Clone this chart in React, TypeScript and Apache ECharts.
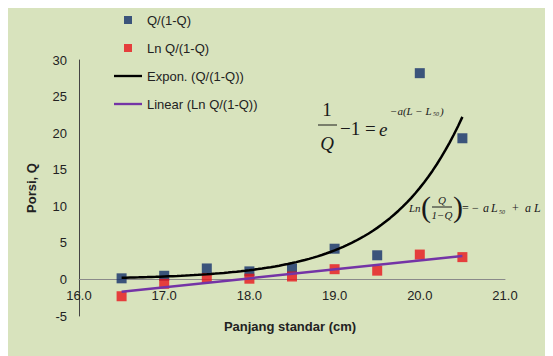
import React, { useEffect, useRef } from "react";
import * as echarts from "echarts";

const lengths = [16.5, 17.0, 17.5, 18.0, 18.5, 19.0, 19.5, 20.0, 20.5];
const oddsValues = [0.15, 0.5, 1.5, 1.1, 1.5, 4.2, 3.3, 28.2, 19.3];
const lnOddsValues = [-2.3, -0.6, 0.2, 0.1, 0.4, 1.4, 1.2, 3.4, 3.05];
const xTicks = [16, 17, 18, 19, 20, 21];
const yTicks = [-5, 0, 5, 10, 15, 20, 25, 30];

const seriesNames = ["Q/(1-Q)", "Ln Q/(1-Q)", "Expon. (Q/(1-Q))", "Linear (Ln Q/(1-Q))"];

function linFit(xs: number[], ys: number[]) {
  const n = xs.length;
  const mx = xs.reduce((a, b) => a + b, 0) / n;
  const my = ys.reduce((a, b) => a + b, 0) / n;
  let sxy = 0, sxx = 0;
  for (let i = 0; i < n; i++) {
    sxy += (xs[i] - mx) * (ys[i] - my);
    sxx += (xs[i] - mx) * (xs[i] - mx);
  }
  const b = sxy / sxx;
  return { a: my - b * mx, b };
}

const OX = 8; // page offset (body margin)
const OY = 8;
const serif = "'Liberation Serif', 'DejaVu Serif', serif";
const sans = "'Liberation Sans', Arial, sans-serif";

const GRID_LEFT = 79;
const GRID_TOP = 60;
const GRID_W = 426;
const GRID_H = 256;

export default function App() {
  const ref = useRef<HTMLDivElement>(null);
  useEffect(() => {
    if (!ref.current) return;
    const chart = echarts.init(ref.current, null, { renderer: "svg" });

    const lin = linFit(lengths, lnOddsValues);
    const expFit = linFit(lengths, oddsValues.map((v) => Math.log(v)));
    const x0 = lengths[0];
    const x1 = lengths[lengths.length - 1];
    const expCurve: number[][] = [];
    const steps = 80;
    for (let i = 0; i <= steps; i++) {
      const x = x0 + ((x1 - x0) * i) / steps;
      expCurve.push([x, Math.exp(expFit.a + expFit.b * x)]);
    }
    const linLine = [
      [x0, lin.a + lin.b * x0],
      [x1, lin.a + lin.b * x1],
    ];

    const yMin = yTicks[0];
    const yMax = yTicks[yTicks.length - 1];
    const zeroOffset = -(GRID_H * (0 - yMin)) / (yMax - yMin);

    const t = (s: string, x: number, y: number, style: any) => ({
      type: "text",
      x: x - OX,
      y: y - OY,
      style: { text: s, fontFamily: serif, fill: "#1a1a1a", textVerticalAlign: "middle", ...style },
    });
    const ln = (xa: number, ya: number, xb: number, yb: number) => ({
      type: "line",
      shape: { x1: xa - OX, y1: ya - OY, x2: xb - OX, y2: yb - OY },
      style: { stroke: "#1a1a1a", lineWidth: 1 },
    });

    // formula 2 anchor
    const fx = 5;
    const fy = 208;

    const option: any = {
      animation: false,
      backgroundColor: "#d8e3bd",
      textStyle: { fontFamily: sans },
      grid: { left: GRID_LEFT - OX, top: GRID_TOP - OY, width: GRID_W, height: GRID_H, containLabel: false },
      legend: {
        orient: "vertical",
        left: 109 - OX,
        top: -1,
        itemWidth: 28,
        itemHeight: 8,
        itemGap: 12,
        symbolKeepAspect: true,
        textStyle: { fontSize: 13, color: "#222", lineHeight: 16 },
        data: [
          { name: seriesNames[0], icon: "path://M0,0H10V10H0Z" },
          { name: seriesNames[1], icon: "path://M0,0H10V10H0Z" },
          { name: seriesNames[2], icon: "path://M0,0H30V2.5H0Z" },
          { name: seriesNames[3], icon: "path://M0,0H30V2.5H0Z" },
        ],
      },
      xAxis: {
        type: "value",
        min: xTicks[0],
        max: xTicks[xTicks.length - 1],
        interval: 1,
        offset: zeroOffset,
        axisLine: { onZero: false, lineStyle: { color: "#8a8a8a", width: 1 } },
        axisTick: { show: false },
        splitLine: { show: false },
        axisLabel: {
          fontSize: 13,
          color: "#222",
          margin: 10,
          formatter: (v: number) => v.toFixed(1),
        },
      },
      yAxis: {
        type: "value",
        min: yMin,
        max: yMax,
        interval: 5,
        name: "Porsi, Q",
        nameLocation: "middle",
        nameGap: 41,
        nameTextStyle: { fontSize: 13, fontWeight: "bold", color: "#222" },
        axisLine: { onZero: false, lineStyle: { color: "#444", width: 1 } },
        axisTick: { show: false },
        splitLine: { show: false },
        axisLabel: { fontSize: 13, color: "#222", margin: 12 },
      },
      graphic: [
        {
          type: "text",
          x: 290 - OX,
          y: 326 - OY,
          style: {
            text: "Panjang standar (cm)",
            fontSize: 13,
            fontWeight: "bold",
            fill: "#222",
            fontFamily: sans,
            textAlign: "center",
            textVerticalAlign: "middle",
          },
        },
        // formula 1
        t("1", 327, 109, { fontSize: 19, textAlign: "center" }),
        ln(318, 125, 337, 125),
        t("Q", 327, 143, { fontSize: 19, fontStyle: "italic", textAlign: "center" }),
        t("\u22121 =", 340, 128, { fontSize: 19 }),
        t("e", 379, 129, { fontSize: 19, fontStyle: "italic" }),
        t("\u2212a(L \u2212 L", 390, 111, { fontSize: 11, fontStyle: "italic" }),
        t("50", 433, 114, { fontSize: 6, fontStyle: "italic" }),
        t(")", 440, 111, { fontSize: 11, fontStyle: "italic" }),
        // formula 2
        t("Ln", 404 + fx, fy, { fontSize: 11, fontStyle: "italic" }),
        t("(", 416 + fx, fy - 2, { fontSize: 30 }),
        t("Q", 437 + fx, fy - 8, { fontSize: 11, fontStyle: "italic", textAlign: "center" }),
        ln(427 + fx, fy - 1, 447 + fx, fy - 1),
        t("1\u2212Q", 437 + fx, fy + 7, { fontSize: 11, fontStyle: "italic", textAlign: "center" }),
        t(")", 448 + fx, fy - 2, { fontSize: 30 }),
        t("=", 457 + fx, fy, { fontSize: 12 }),
        t("\u2212", 467 + fx, fy, { fontSize: 12 }),
        t("a", 478 + fx, fy, { fontSize: 12, fontStyle: "italic" }),
        t("L", 486 + fx, fy, { fontSize: 12, fontStyle: "italic" }),
        t("50", 494 + fx, fy + 4, { fontSize: 6, fontStyle: "italic" }),
        t("+", 507 + fx, fy, { fontSize: 12 }),
        t("a", 520 + fx, fy, { fontSize: 12, fontStyle: "italic" }),
        t("L", 529 + fx, fy, { fontSize: 12, fontStyle: "italic" }),
      ],
      series: [
        {
          name: seriesNames[0],
          type: "scatter",
          symbol: "rect",
          symbolSize: 10,
          itemStyle: { color: "#14306a" },
          data: lengths.map((x, i) => [x, oddsValues[i]]),
          z: 2,
        },
        {
          name: seriesNames[1],
          type: "scatter",
          symbol: "rect",
          symbolSize: 10,
          itemStyle: { color: "#e8141c" },
          data: lengths.map((x, i) => [x, lnOddsValues[i]]),
          z: 2,
        },
        {
          name: seriesNames[2],
          type: "line",
          symbol: "none",
          showSymbol: false,
          lineStyle: { color: "#000", width: 2.5 },
          itemStyle: { color: "#000" },
          data: expCurve,
          z: 3,
        },
        {
          name: seriesNames[3],
          type: "line",
          symbol: "none",
          showSymbol: false,
          lineStyle: { color: "#7434a6", width: 2.5 },
          itemStyle: { color: "#7434a6" },
          data: linLine,
          z: 3,
        },
      ],
    };
    chart.setOption(option);
    return () => chart.dispose();
  }, []);
  return <div ref={ref} style={{ width: 545, height: 348 }} />;
}
